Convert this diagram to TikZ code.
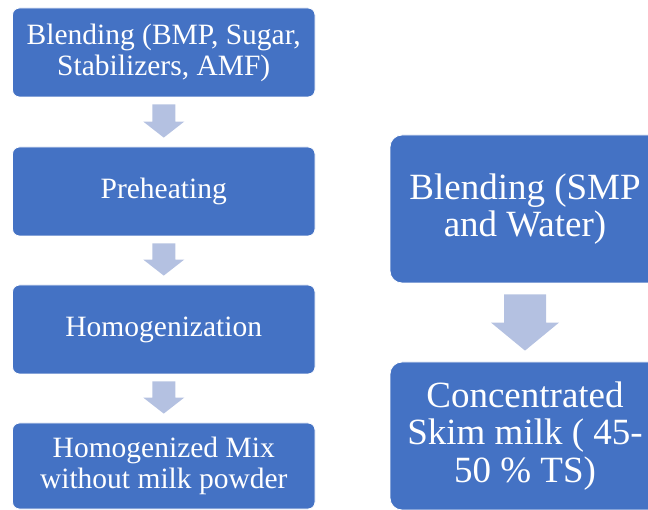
\documentclass[tikz,border=0pt]{standalone}
\usepackage{fontspec}
\setmainfont{Liberation Serif}
\usetikzlibrary{calc}
\definecolor{boxblue}{HTML}{4472C4}
\definecolor{arrowblue}{HTML}{B4C1E1}
\tikzset{
  leftbox/.style={fill=boxblue, draw=white, line width=0.8pt, rounded corners=7pt,
    minimum width=302.5pt, minimum height=89pt, text=white, align=center,
    font=\fontsize{29.5pt}{31pt}\selectfont, inner sep=0pt},
  rightbox/.style={fill=boxblue, draw=white, line width=0.8pt, rounded corners=12pt,
    minimum width=270pt, minimum height=148pt, text=white, align=center,
    font=\fontsize{37pt}{37.5pt}\selectfont, inner sep=0pt},
  blockarrow/.style={fill=arrowblue}
}
\begin{document}
\begin{tikzpicture}[x=1pt,y=1pt]
\useasboundingbox (0,0) rectangle (648,-510);
\clip (0,0) rectangle (648,-510);
\node[leftbox] (b1) at (163.75,-52.5) {Blending (BMP, Sugar,\\Stabilizers, AMF)};
\node[leftbox] (b2) at (163.75,-191.5) {Preheating};
\node[leftbox] (b3) at (163.75,-329.5) {Homogenization};
\node[leftbox, minimum height=86pt] (b4) at (163.75,-466) {Homogenized Mix\\without milk powder};
\node[rightbox] (r1) at (525,-209) {Blending (SMP\\and Water)};
\node[rightbox] (r2) at (525,-436) {Concentrated\\Skim milk ( 45-\\50 \% TS)};
\foreach \a/\b in {b1/b2,b2/b3,b3/b4}{
  \fill[blockarrow] let \p1=(\a.south), \p2=(\b.north) in
    (\x1-11.5pt,\y1-7pt) -- (\x1+11.5pt,\y1-7pt) -- (\x1+11.5pt,\y2+25pt) --
    (\x1+20.5pt,\y2+25pt) -- (\x1,\y2+9pt) -- (\x1-20.5pt,\y2+25pt) --
    (\x1-11.5pt,\y2+25pt) -- cycle;
}
\fill[blockarrow] let \p1=(r1.south), \p2=(r2.north) in
    (\x1-21pt,\y1-11pt) -- (\x1+21pt,\y1-11pt) -- (\x1+21pt,\y2+39pt) --
    (\x1+34pt,\y2+39pt) -- (\x1,\y2+11pt) -- (\x1-34pt,\y2+39pt) --
    (\x1-21pt,\y2+39pt) -- cycle;
\end{tikzpicture}
\end{document}
